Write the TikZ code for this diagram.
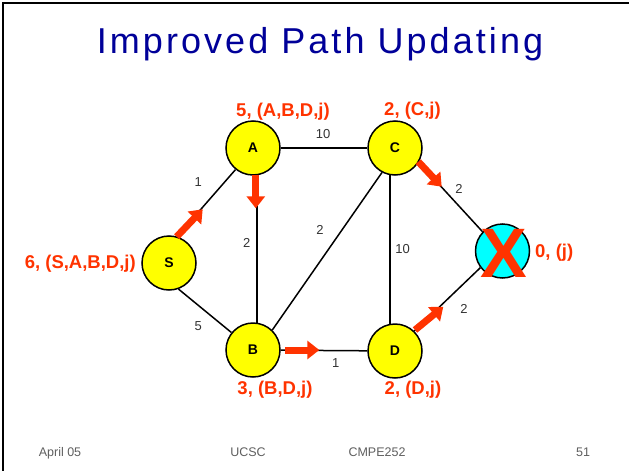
\documentclass[tikz,border=0pt]{standalone}
\usepackage{fontspec}
\setmainfont{Liberation Sans}
\newfontfamily\titlefont[LetterSpace=8.5]{Liberation Sans}
\usetikzlibrary{arrows.meta}
\definecolor{hotred}{RGB}{255,51,0}
\definecolor{titleblue}{RGB}{0,0,153}
\definecolor{wgray}{RGB}{51,51,51}
\definecolor{footgray}{RGB}{95,95,95}
\definecolor{nodeyellow}{RGB}{255,255,0}
\definecolor{nodecyan}{RGB}{0,255,255}
\tikzset{
  vertex/.style={circle, draw=black, line width=1.5pt, fill=nodeyellow, minimum size=54pt,
    inner sep=0pt, font=\fontsize{14}{14}\selectfont\bfseries},
  edge/.style={draw=black, line width=1.5pt},
  weight/.style={text=wgray, inner sep=0pt, font=\fontsize{13}{13}\selectfont},
  dist/.style={text=hotred, inner sep=0pt, font=\fontsize{18.5}{19}\selectfont\bfseries},
  push/.style={draw=hotred, line width=7pt, -{Triangle[width=18pt,length=12pt]}},
  foot/.style={text=footgray, inner sep=0pt, anchor=base, font=\fontsize{12.5}{12.5}\selectfont}
}
\begin{document}
\begin{tikzpicture}[x=1pt,y=-1pt]
\useasboundingbox (0,0) rectangle (629,471);
% slide frame (top and left edges)
\draw[line width=2.5pt, line cap=rect] (3,471) -- (3,3) -- (629,3);
% title
\node[text=titleblue, inner sep=0pt, anchor=base, font=\titlefont\fontsize{36}{36}\selectfont] (title) at (320,53.3) {Improved Path Updating};
% vertices
\node[vertex] (S) at (169,263) {S};
\node[vertex] (A) at (253,148) {A};
\node[vertex] (C) at (395,148) {C};
\node[vertex] (B) at (253,350) {B};
\node[vertex] (D) at (395,351) {D};
\node[vertex, fill=nodecyan] (J) at (502.5,251) {};
% links
\draw[edge] (S.73) -- (A.231);
\draw[edge] (S.-70) -- (B.141);
\draw[edge] (A) -- (C);
\draw[edge] (A.-82) -- (B.82);
\draw[edge] (B.46) -- (C.242);
\draw[edge] (B) -- (D);
\draw[edge] (C.-100) -- (D.100);
\draw[edge] (C.-31) -- (J.136);
\draw[edge] (D.46) -- (J.217);
% link weights
\node[weight] (wac) at (323,134) {10};
\node[weight] (wsa) at (198.3,181.7) {1};
\node[weight] (wab) at (246.7,242.7) {2};
\node[weight] (wbc) at (320,230) {2};
\node[weight] (wcd) at (402.7,249.3) {10};
\node[weight] (wcj) at (459,189) {2};
\node[weight] (wsb) at (198.3,326) {5};
\node[weight] (wbd) at (335.7,362.7) {1};
\node[weight] (wdj) at (464,309) {2};
% updated distances and paths
\node[dist] (lA) at (283,111.5) {5, (A,B,D,j)};
\node[dist] (lC) at (412.5,110.7) {2, (C,j)};
\node[dist, anchor=east] (lS) at (136,263.3) {6, (S,A,B,D,j)};
\node[dist, anchor=west] (lJ) at (535,252.7) {0, (j)};
\node[dist] (lB) at (275,389.3) {3, (B,D,j)};
\node[dist] (lD) at (413,389.3) {2, (D,j)};
% cross over the destination
\node[text=hotred, inner sep=0pt, font=\fontsize{70}{70}\selectfont\bfseries] (cross) at (504,253) {X};
% update direction arrows
\coordinate (sa0) at (176.7,236.7); \coordinate (sa1) at (202.7,209.3);
\coordinate (ab0) at (255.8,175);   \coordinate (ab1) at (255.8,208.3);
\coordinate (bd0) at (285,350);     \coordinate (bd1) at (319.3,350);
\coordinate (cj0) at (418.3,161.7); \coordinate (cj1) at (441.7,186.7);
\coordinate (dj0) at (415,330);     \coordinate (dj1) at (443.3,306.7);
\draw[push] (sa0) -- (sa1);
\draw[push] (ab0) -- (ab1);
\draw[push] (bd0) -- (bd1);
\draw[push] (cj0) -- (cj1);
\draw[push] (dj0) -- (dj1);
% footer
\node[foot] (f1) at (60,456.7) {April 05};
\node[foot] (f2) at (248,456.7) {UCSC};
\node[foot] (f3) at (377,456.7) {CMPE252};
\node[foot] (f4) at (583,456.7) {51};
\end{tikzpicture}
\end{document}
